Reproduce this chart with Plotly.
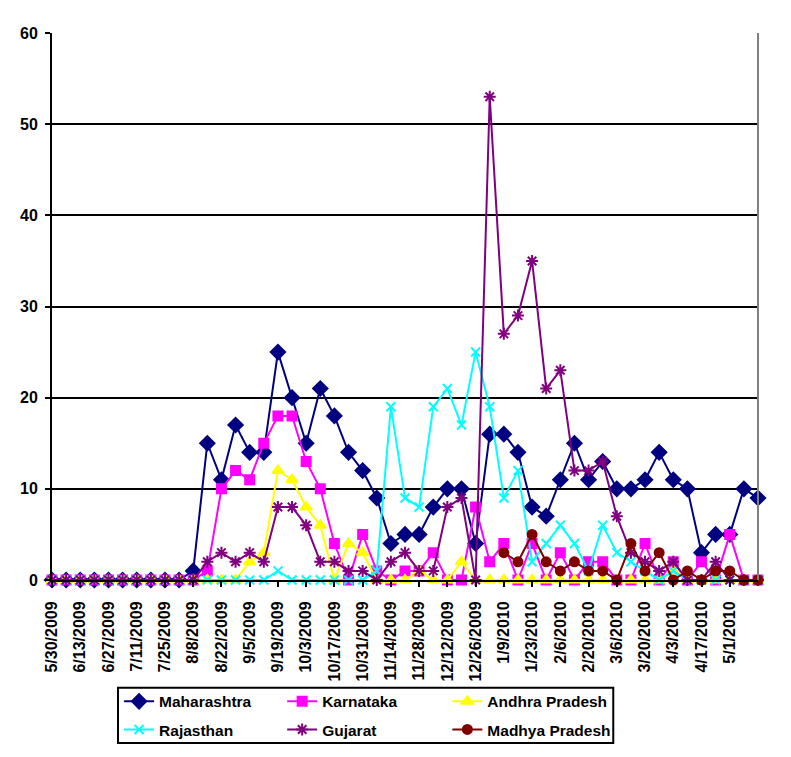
import plotly.graph_objects as go

# Weekly reporting dates (category axis)
weeks = [
    "5/30/2009", "6/6/2009", "6/13/2009", "6/20/2009", "6/27/2009", "7/4/2009",
    "7/11/2009", "7/18/2009", "7/25/2009", "8/1/2009", "8/8/2009", "8/15/2009",
    "8/22/2009", "8/29/2009", "9/5/2009", "9/12/2009", "9/19/2009", "9/26/2009",
    "10/3/2009", "10/10/2009", "10/17/2009", "10/24/2009", "10/31/2009", "11/7/2009",
    "11/14/2009", "11/21/2009", "11/28/2009", "12/5/2009", "12/12/2009", "12/19/2009",
    "12/26/2009", "1/2/2010", "1/9/2010", "1/16/2010", "1/23/2010", "1/30/2010",
    "2/6/2010", "2/13/2010", "2/20/2010", "2/27/2010", "3/6/2010", "3/13/2010",
    "3/20/2010", "3/27/2010", "4/3/2010", "4/10/2010", "4/17/2010", "4/24/2010",
    "5/1/2010", "5/8/2010", "5/15/2010",
]
# labelled every second week, last label 5/1/2010
tick_labels = weeks[0:49:2]

maharashtra = [0, 0, 0, 0, 0, 0, 0, 0, 0, 0, 1, 15, 11, 17, 14, 14, 25, 20, 15, 21,
               18, 14, 12, 9, 4, 5, 5, 8, 10, 10, 4, 16, 16, 14, 8, 7, 11, 15, 11, 13,
               10, 10, 11, 14, 11, 10, 3, 5, 5, 10, 9]
karnataka = [0, 0, 0, 0, 0, 0, 0, 0, 0, 0, 0, 1, 10, 12, 11, 15, 18, 18, 13, 10,
             4, 0, 5, 1, 0, 1, 1, 3, 0, 0, 8, 2, 4, 0, 4, 0, 3, 0, 2, 2,
             0, 0, 4, 0, 2, 0, 2, 0, 5, 0, 0]
andhra = [0, 0, 0, 0, 0, 0, 0, 0, 0, 0, 0, 0, 0, 0, 2, 3, 12, 11, 8, 6,
          0, 4, 3, 0, 0, 0, 1, 0, 0, 2, 0, 0, 0, 0, 0, 0, 0, 0, 0, 0,
          0, 0, 0, 0, 1, 0, 0, 0, 0, 0, 0]
rajasthan = [0, 0, 0, 0, 0, 0, 0, 0, 0, 0, 0, 0, 0, 0, 0, 0, 1, 0, 0, 0,
             0, 0, 0, 1, 19, 9, 8, 19, 21, 17, 25, 19, 9, 12, 2, 4, 6, 4, 1, 6,
             3, 2, 1, 0, 1, 0, 0, 0, 0, 0, 0]
gujarat = [0, 0, 0, 0, 0, 0, 0, 0, 0, 0, 0, 2, 3, 2, 3, 2, 8, 8, 6, 2,
           2, 1, 1, 0, 2, 3, 1, 1, 8, 9, 0, 53, 27, 29, 35, 21, 23, 12, 12, 13,
           7, 3, 2, 1, 2, 0, 0, 2, 0, 0, 0]
madhya = [None] * 32 + [3, 2, 5, 2, 1, 2, 1, 1, 0, 4, 1, 3, 0, 1, 0, 1, 1, 0, 0]

# name, values, colour, marker, size, legend column
series = [
    ("Maharashtra", maharashtra, "#000080", "diamond", 11, "legend"),
    ("Karnataka", karnataka, "#FF00FF", "square", 9, "legend2"),
    ("Andhra Pradesh", andhra, "#FFFF00", "triangle-up", 10, "legend3"),
    ("Rajasthan", rajasthan, "#00FFFF", "x-thin-open", 9, "legend"),
    ("Gujarat", gujarat, "#800080", "asterisk-open", 10, "legend2"),
    ("Madhya Pradesh", madhya, "#800000", "circle", 9, "legend3"),
]

fig = go.Figure()
for name, vals, color, symbol, size, leg in series:
    fig.add_trace(go.Scatter(
        x=weeks, y=vals, name=name, mode="lines+markers",
        line=dict(color=color, width=2),
        marker=dict(symbol=symbol, size=size, color=color,
                    line=dict(color=color, width=2)),
        cliponaxis=False, legend=leg, legendgroup=name,
    ))

font = dict(family="Liberation Sans, Arial", color="black", weight="bold")

def legend_col(x):
    return dict(
        x=x, y=-0.1915, xanchor="left", yanchor="top",
        bgcolor="rgba(0,0,0,0)", borderwidth=0,
        font=dict(size=15.5, **font), traceorder="grouped", tracegroupgap=5,
    )

# page body adds an 8px offset, so the figure is sized to the remaining window
fig.update_layout(
    width=783, height=749,
    margin=dict(l=44, r=33, t=25, b=177, autoexpand=False),
    plot_bgcolor="white", paper_bgcolor="white",
    font=font,
    xaxis=dict(
        type="category", range=[0, len(weeks) - 1],
        tickmode="array", tickvals=tick_labels, ticktext=tick_labels,
        tickangle=-90, tickfont=dict(size=16, **font), ticklabelstandoff=8,
        ticks="outside", ticklen=5, tickcolor="black", tickwidth=2,
        showline=True, linecolor="black", linewidth=2,
        showgrid=False, zeroline=False, automargin=False,
    ),
    yaxis=dict(
        range=[0, 60], dtick=10, tickfont=dict(size=16, **font),
        ticks="outside", ticklen=5, tickcolor="black", tickwidth=2,
        showline=True, linecolor="black", linewidth=2, ticklabelstandoff=4,
        showgrid=True, gridcolor="black", gridwidth=2, zeroline=False,
        automargin=False,
    ),
    legend=legend_col(0.095),
    legend2=legend_col(0.326),
    legend3=legend_col(0.560),
    shapes=[
        dict(type="line", xref="paper", yref="paper", x0=1, x1=1, y0=0, y1=1,
             line=dict(color="#808080", width=2)),
        # legend frame
        dict(type="rect", xref="paper", yref="paper",
             x0=0.0935, x1=0.795, y0=-0.298, y1=-0.197,
             line=dict(color="black", width=2)),
    ],
)

fig.write_html("out.html")
